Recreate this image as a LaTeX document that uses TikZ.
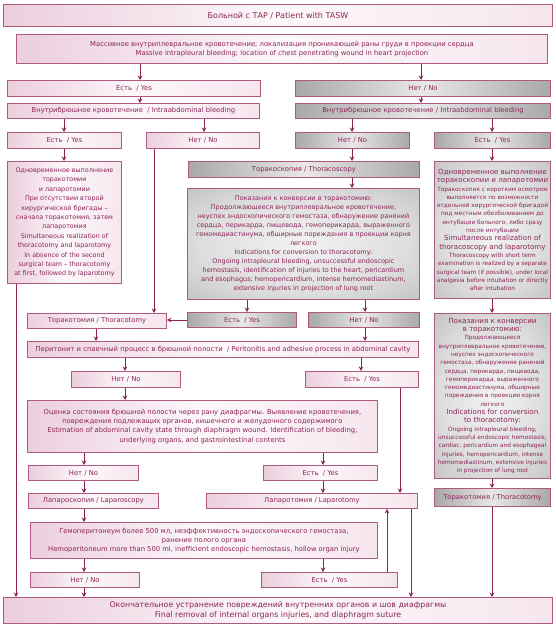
\documentclass[tikz,border=0pt]{standalone}
\usepackage{fontspec}
\setmainfont{DejaVu Sans}
\usetikzlibrary{arrows.meta}
\definecolor{edgec}{RGB}{176,90,130}
\definecolor{txtc}{RGB}{140,36,88}
\definecolor{arrc}{RGB}{140,35,85}
\definecolor{pinkL}{RGB}{236,206,221}
\definecolor{pinkR}{RGB}{246,230,238}
\definecolor{grayE}{RGB}{168,168,168}
\definecolor{grayM}{RGB}{232,232,232}
\pgfdeclareradialshading{grayglow}{\pgfpoint{0bp}{0bp}}{rgb(0bp)=(0.95,0.95,0.95); rgb(22bp)=(0.87,0.87,0.87); rgb(45bp)=(0.70,0.70,0.70); rgb(100bp)=(0.64,0.64,0.64)}
\newcommand{\fontL}{\fontsize{7.1}{9.6}\selectfont}
\newcommand{\fontS}{\fontsize{5.8}{8.3}\selectfont}

\begin{document}
\begin{tikzpicture}[x=1pt,y=-1pt]
\tikzstyle{every node}+=[inner sep=0pt]
\tikzstyle{box}=[draw=edgec, line width=0.9pt, text=txtc, align=center, anchor=north west, font=\fontsize{6.8}{8.6}\selectfont]
\tikzstyle{pinkbox}=[box, left color=pinkL, right color=pinkR, middle color=white!70!pinkR]
\tikzstyle{graybox}=[box, left color=grayE, right color=grayE, middle color=grayM]
\tikzstyle{graytall}=[box, shading=grayglow]
\tikzstyle{arr}=[draw=arrc, line width=0.8pt, -{Stealth[length=4.5pt,width=4.5pt]}]
\useasboundingbox (0,0) rectangle (555,626);
% columns of the connectors
\coordinate (colA) at (140,0);
\coordinate (colB) at (421,0);
\coordinate (colC) at (64,0);
\coordinate (colD) at (204,0);
\coordinate (colE) at (154,0);
\coordinate (colF) at (352,0);
\coordinate (colG) at (492,0);
\coordinate (colH) at (16,0);
\coordinate (colI) at (247,0);
\coordinate (colJ) at (365,0);
\coordinate (colK) at (96,0);
\coordinate (colL) at (125,0);
\coordinate (colM) at (361,0);
\coordinate (colN) at (400,0);
\coordinate (colO) at (84,0);
\coordinate (colP) at (323,0);
\coordinate (colQ) at (387,0);
\coordinate (colR) at (411,0);
% top
\node[pinkbox, minimum width=549, minimum height=22, font=\fontsize{8}{9.5}\selectfont] (patient) at (3,4) {Больной с ТАР / Patient with TASW};
\node[pinkbox, minimum width=531, minimum height=29] (massive) at (16,34) {Массивное внутриплевральное кровотечение; локализация проникающей раны груди в проекции сердца\\Massive intrapleural bleeding; location of chest penetrating wound in heart projection};
\node[pinkbox, minimum width=253, minimum height=16] (yesOne) at (7,80) {Есть~ / Yes};
\node[graybox, minimum width=255, minimum height=16] (noOne) at (295,80) {Нет / No};
\node[pinkbox, minimum width=252, minimum height=15] (bleedL) at (7,103) {Внутрибрюшное кровотечение~ / Intraabdominal bleeding};
\node[graybox, minimum width=255, minimum height=15] (bleedR) at (295,103) {Внутрибрюшное кровотечение / Intraabdominal bleeding};
\node[pinkbox, minimum width=114, minimum height=16] (yesA) at (7,132) {Есть~ / Yes};
\node[pinkbox, minimum width=113, minimum height=16] (noA) at (146,132) {Нет / No};
\node[graybox, minimum width=114, minimum height=16] (noB) at (295,132) {Нет / No};
\node[graybox, minimum width=116, minimum height=16] (yesB) at (434,132) {Есть~ / Yes};
% left: simultaneous operations
\node[pinkbox, minimum width=114, minimum height=122, font=\fontsize{6.4}{9.4}\selectfont] (simL) at (7,161) {Одновременное выполнение\\торакотомии\\и лапаротомии\\При отсутствии второй\\хирургической бригады –\\сначала торакотомия, затем\\лапаротомия\\Simultaneous realization of\\thoracotomy and laparotomy\\In absence of the second\\surgical team – thoracotomy\\at first, followed by laparotomy};
% middle: thoracoscopy
\node[graybox, minimum width=231, minimum height=16] (tscopy) at (188,161) {Торакоскопия / Thoracoscopy};
\node[graytall, minimum width=232, minimum height=111, font=\fontsize{6.5}{9}\selectfont] (convC) at (187,188) {Показания к конверсии в торакотомию:\\Продолжающееся внутриплевральное кровотечение,\\неуспех эндоскопического гемостаза, обнаружение ранений\\сердца, перикарда, пищевода, гемоперикарда, выраженного\\гемомедиастинума, обширные пореждения в проекции корня\\легкого\\Indications for conversion to thoracotomy:\\Ongoing intrapleural bleeding, unsuccessful endoscopic\\hemostasis, identification of injuries to the heart, pericardium\\and esophagus; hemopericardium, intense hemomediastinum,\\extensive injuries in projection of lung root};
% right: thoracoscopy and laparotomy
\node[graytall, minimum width=116, minimum height=137, font=\fontS] (simR) at (434,161) {\fontL Одновременное выполнение\\\fontL торакоскопии и лапаротомии\\Торакоскопия с коротким осмотром\\выполняется по возможности\\отдельной хирургической бригадой\\под местным обезболиванием до\\интубации больного, либо сразу\\после интубации\\\fontL Simultaneous realization of\\\fontL thoracoscopy and laparotomy\\Thoracoscopy with short term\\examination is realized by a separate\\surgical team (if possible), under local\\analgesia before intubation or directly\\after intubation};
\node[pinkbox, minimum width=139, minimum height=15] (tomyL) at (27,313) {Торакотомия / Thoracotomy};
\node[graybox, minimum width=109, minimum height=15] (yesC) at (187,312) {Есть~ / Yes};
\node[graybox, minimum width=111, minimum height=15] (noC) at (308,312) {Нет / No};
\node[graytall, minimum width=116, minimum height=165, font=\fontS] (convR) at (434,313) {\fontL Показания к конверсии\\\fontL в торакотомию:\\Продолжающееся\\внутриплевральное кровотечение,\\неуспех эндоскопического\\гемостаза, обнаружение ранений\\сердца, перикарда, пищевода,\\гемоперикарда, выраженного\\гемомедиастинума, обширные\\пореждения в проекции корня\\легкого\\\fontL Indications for conversion\\\fontL to thoracotomy:\\Ongoing intrapleural bleeding,\\unsuccessful endoscopic hemostasis,\\cardiac, pericardium and esophageal\\injuries, hemopericardium, intense\\hemomediastinum, extensive injuries\\in projection of lung root};
% abdomen
\node[pinkbox, minimum width=391, minimum height=16] (perit) at (27,341) {Перитонит и спаечный процесс в брюшной полости~ / Peritonitis and adhesive process in abdominal cavity};
\node[pinkbox, minimum width=109, minimum height=16] (noD) at (71,371) {Нет / No};
\node[pinkbox, minimum width=113, minimum height=16] (yesD) at (305,371) {Есть~ / Yes};
\node[pinkbox, minimum width=350, minimum height=52, font=\fontsize{6.8}{9.2}\selectfont] (estim) at (27,400) {Оценка состояния брюшной полости через рану диафрагмы. Выявление кровотечения,\\повреждения подлежащих органов, кишечного и желудочного содержимого\\Estimation of abdominal cavity state through diaphragm wound. Identification of bleeding,\\underlying organs, and gastrointestinal contents};
\node[pinkbox, minimum width=110, minimum height=15] (noE) at (28,465) {Нет / No};
\node[pinkbox, minimum width=114, minimum height=15] (yesE) at (263,465) {Есть~ / Yes};
\node[pinkbox, minimum width=130, minimum height=15] (lscopy) at (28,493) {Лапароскопия / Laparoscopy};
\node[pinkbox, minimum width=211, minimum height=15] (ltomy) at (206,493) {Лапаротомия / Laparotomy};
\node[graybox, minimum width=116, minimum height=18] (tomyR) at (434,488) {Торакотомия / Thoracotomy};
\node[pinkbox, minimum width=347, minimum height=36, font=\fontsize{6.8}{9.2}\selectfont] (hemo) at (30,522) {Гемоперитонеум более 500 мл, неэффективность эндоскопического гемостаза,\\ранение полого органа\\Hemoperitoneum more than 500 ml, inefficient endoscopic hemostasis, hollow organ injury};
\node[pinkbox, minimum width=109, minimum height=15] (noF) at (30,572) {Нет / No};
\node[pinkbox, minimum width=136, minimum height=15] (yesF) at (261,572) {Есть~ / Yes};
\node[pinkbox, minimum width=549, minimum height=26, font=\fontsize{7.8}{10.4}\selectfont] (final) at (3,597) {Окончательное устранение повреждений внутренних органов и шов диафрагмы\\Final removal of internal organs injuries, and diaphragm suture};
% connectors
\draw[arr] (massive.south -| colA) -- (yesOne.north -| colA);
\draw[arr] (massive.south -| colB) -- (noOne.north -| colB);
\draw[arr] (yesOne.south -| colA) -- (bleedL.north -| colA);
\draw[arr] (noOne.south -| colB) -- (bleedR.north -| colB);
\draw[arr] (bleedL.south -| colC) -- (yesA.north -| colC);
\draw[arr] (bleedL.south -| colD) -- (noA.north -| colD);
\draw[arr] (bleedR.south -| colF) -- (noB.north -| colF);
\draw[arr] (bleedR.south -| colG) -- (yesB.north -| colG);
\draw[arr] (yesA.south -| colC) -- (simL.north -| colC);
\draw[arr] (noA.south -| colE) -- (tomyL.north -| colE);
\draw[arr] (noB.south -| colF) -- (tscopy.north -| colF);
\draw[arr] (tscopy.south -| colF) -- (convC.north -| colF);
\draw[arr] (yesB.south -| colG) -- (simR.north -| colG);
\draw[arr] (simR.south -| colG) -- (convR.north -| colG);
\draw[arr] (convR.south -| colG) -- (tomyR.north -| colG);
\draw[arr] (tomyR.south -| colG) -- (final.north -| colG);
\draw[arr] (simL.south -| colH) -- (final.north -| colH);
\draw[arr] (convC.south -| colI) -- (yesC.north -| colI);
\draw[arr] (convC.south -| colJ) -- (noC.north -| colJ);
\draw[arr] (yesC.west) -- (yesC.west -| tomyL.east);
\draw[arr] (noC.south -| colJ) -- (perit.north -| colJ);
\draw[arr] (tomyL.south -| colK) -- (perit.north -| colK);
\draw[arr] (perit.south -| colL) -- (noD.north -| colL);
\draw[arr] (perit.south -| colM) -- (yesD.north -| colM);
\draw[arr] (noD.south -| colL) -- (estim.north -| colL);
\draw[arr] (yesD.south -| colN) -- (ltomy.north -| colN);
\draw[arr] (estim.south -| colO) -- (noE.north -| colO);
\draw[arr] (estim.south -| colP) -- (yesE.north -| colP);
\draw[arr] (noE.south -| colO) -- (lscopy.north -| colO);
\draw[arr] (yesE.south -| colP) -- (ltomy.north -| colP);
\draw[arr] (lscopy.south -| colO) -- (hemo.north -| colO);
\draw[arr] (hemo.south -| colO) -- (noF.north -| colO);
\draw[arr] (hemo.south -| colP) -- (yesF.north -| colP);
\draw[arr] (noF.south -| colO) -- (final.north -| colO);
\draw[arr] (yesF.north -| colQ) -- (ltomy.south -| colQ);
\draw[arr] (ltomy.south -| colR) -- (final.north -| colR);
\end{tikzpicture}
\end{document}
